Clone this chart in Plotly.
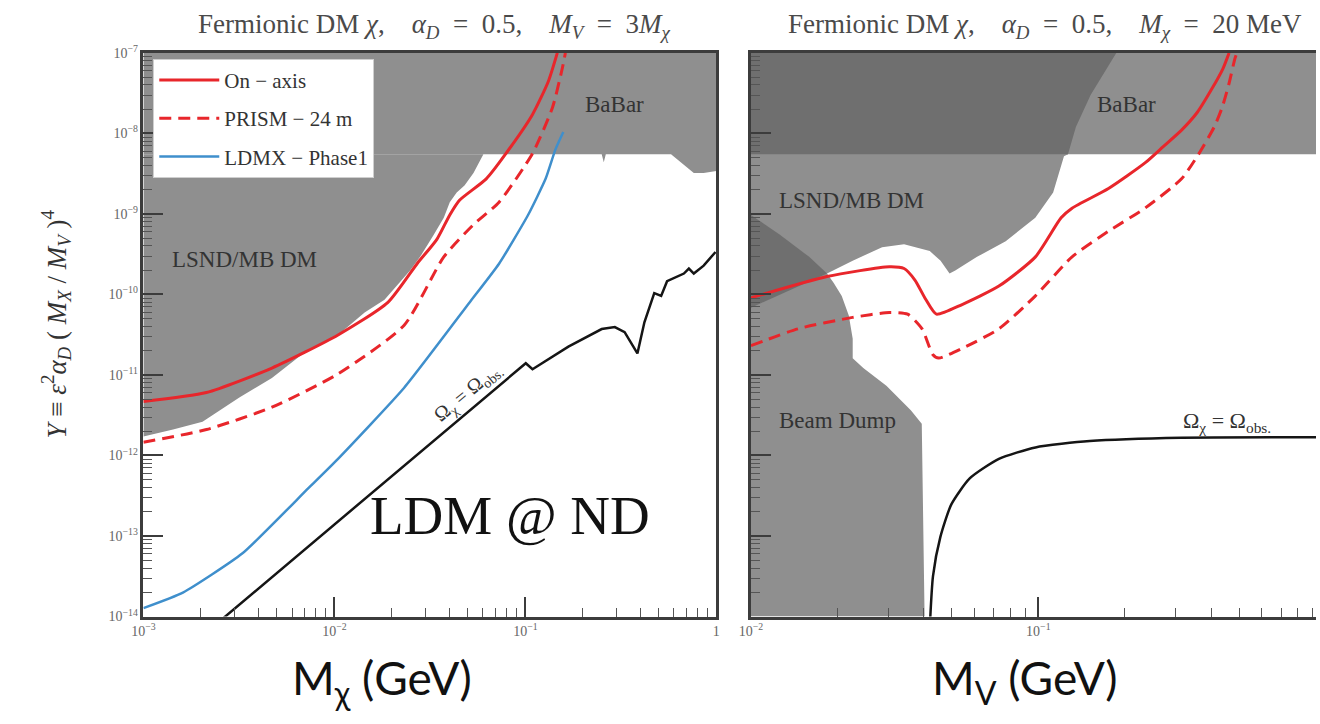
import plotly.graph_objects as go

# ---------------- Left panel: M_V = 3 M_chi (x = M_chi in GeV) ----------------
onaxis_m = [0.001, 0.00214, 0.00471, 0.01045, 0.019, 0.0271, 0.0344, 0.0402, 0.0452,
            0.0624, 0.0792, 0.109, 0.132, 0.147]
onaxis_y = [4.7e-12, 6.05e-12, 1.22e-11, 3.14e-11, 7.9e-11, 2.41e-10, 4.84e-10, 9.73e-10,
            1.48e-9, 2.73e-9, 5.65e-9, 1.72e-8, 4.45e-8, 1.0e-7]

prism_m = [0.001, 0.00214, 0.00471, 0.01045, 0.0232, 0.0374, 0.0535, 0.0728, 0.109,
           0.1387, 0.156, 0.162]
prism_y = [1.46e-12, 2.1e-12, 3.98e-12, 1.03e-11, 4.15e-11, 2.93e-10, 7.36e-10, 1.4e-9,
           5.65e-9, 2.1e-8, 6.4e-8, 1.0e-7]

ldmx_m = [0.001, 0.00161, 0.00329, 0.00731, 0.01045, 0.0232, 0.0509, 0.0728, 0.1033,
          0.1276, 0.1436, 0.158]
ldmx_y = [1.27e-14, 1.98e-14, 6.05e-14, 3.93e-13, 9.1e-13, 6.95e-12, 7.9e-11, 2.41e-10,
          9.7e-10, 2.73e-9, 6.3e-9, 1.04e-8]

relic_m = [0.0026, 0.1005, 0.109, 0.168, 0.251, 0.294, 0.331, 0.386, 0.42, 0.473, 0.514,
           0.552, 0.676, 0.718, 0.762, 0.858, 0.99]
relic_y = [9.4e-15, 1.4e-11, 1.18e-11, 2.25e-11, 3.72e-11, 3.93e-11, 3.41e-11, 1.85e-11,
           4.52e-11, 1.04e-10, 9.6e-11, 1.46e-10, 1.82e-10, 2.1e-10, 1.82e-10, 2.28e-10,
           3.37e-10]

babar_l_m = [0.001, 1.0, 1.0, 0.858, 0.762, 0.579, 0.2637, 0.2574, 0.251, 0.001]
babar_l_y = [1e-7, 1e-7, 3.41e-9, 3.23e-9, 3.23e-9, 5.5e-9, 5.5e-9, 4.39e-9, 5.5e-9, 5.5e-9]

lsnd_l_m = [0.0603, 0.0535, 0.048, 0.0437, 0.0402, 0.0374, 0.0332, 0.0281, 0.0249, 0.0183,
            0.0144, 0.01045, 0.00705, 0.00471, 0.00318, 0.00204, 0.00143, 0.001, 0.001]
lsnd_l_y = [5.5e-9, 3.23e-9, 2.25e-9, 1.85e-9, 1.4e-9, 8.95e-10, 5.56e-10, 2.93e-10,
            1.98e-10, 8.57e-11, 5.97e-11, 3.14e-11, 1.95e-11, 9.2e-12, 5.26e-12, 2.62e-12,
            2.1e-12, 1.72e-12, 5.5e-9]

# ---------------- Right panel: M_chi = 20 MeV (x = M_V in GeV) ----------------
onaxis_mv = [0.01, 0.0184, 0.0303, 0.0341, 0.0372, 0.0406, 0.0442, 0.0543, 0.0729, 0.0977,
             0.120, 0.131, 0.1754, 0.235, 0.272, 0.315, 0.357, 0.403, 0.439, 0.461]
onaxis_yv = [9.08e-11, 1.67e-10, 2.21e-10, 2.1e-10, 1.51e-10, 8.65e-11, 5.69e-11, 7.5e-11,
             1.27e-10, 2.93e-10, 8.95e-10, 1.18e-9, 2.07e-9, 4.3e-9, 6.86e-9, 1.1e-8,
             1.82e-8, 3.66e-8, 6.4e-8, 1.0e-7]

prism_mv = [0.01, 0.01456, 0.0226, 0.0303, 0.0351, 0.0394, 0.0429, 0.045, 0.0543, 0.0729,
            0.0977, 0.131, 0.1754, 0.235, 0.315, 0.363, 0.409, 0.436, 0.461, 0.483, 0.491]
prism_yv = [2.31e-11, 3.74e-11, 5.19e-11, 5.97e-11, 5.69e-11, 3.74e-11, 1.8e-11, 1.62e-11,
            2.14e-11, 3.74e-11, 9.6e-11, 2.93e-10, 6.1e-10, 1.18e-9, 2.73e-9, 5.69e-9,
            1.2e-8, 2.1e-8, 4.2e-8, 8.5e-8, 1.0e-7]

relic_mv = [0.0417, 0.043, 0.0456, 0.0498, 0.0577, 0.0729, 0.0977, 0.151, 0.315, 0.925]
relic_yv = [5e-15, 3.18e-14, 9.7e-14, 2.47e-13, 5.19e-13, 9.07e-13, 1.26e-12, 1.51e-12,
            1.66e-12, 1.68e-12]

babar_r_m = [0.01, 1.0, 1.0, 0.01]
babar_r_y = [1e-7, 1e-7, 5.5e-9, 5.5e-9]

lsnd_r_m = [0.01, 0.1868, 0.152, 0.1405, 0.1351, 0.1268, 0.1228, 0.1126, 0.0976, 0.077,
            0.0612, 0.0514, 0.0491, 0.0457, 0.0419, 0.0341, 0.0286, 0.0226, 0.0184, 0.01]
lsnd_r_y = [1e-7, 1e-7, 3.01e-8, 1.58e-8, 1.2e-8, 5.5e-9, 5.19e-9, 1.85e-9, 8.95e-10,
            4.58e-10, 2.93e-10, 1.98e-10, 1.82e-10, 2.62e-10, 3.46e-10, 4.2e-10, 3.87e-10,
            2.62e-10, 1.82e-10, 6.86e-11]

beamdump_m = [0.01, 0.01258, 0.01594, 0.0174, 0.0184, 0.01944, 0.0207, 0.0219, 0.0226,
              0.0226, 0.0246, 0.0296, 0.036, 0.0393, 0.0402, 0.01]
beamdump_y = [9.73e-10, 5.56e-10, 2.93e-10, 2.21e-10, 1.82e-10, 1.38e-10, 9.6e-11, 5.48e-11,
              2.81e-11, 1.61e-11, 1.22e-11, 7.36e-12, 3.66e-12, 2.48e-12, 1e-14, 1e-14]

# overlapping exclusions are shaded darker
lsnd_babar_m = [0.01, 0.1868, 0.152, 0.1405, 0.1351, 0.1268, 0.01]
lsnd_babar_y = [1e-7, 1e-7, 3.01e-8, 1.58e-8, 1.2e-8, 5.5e-9, 5.5e-9]
lsnd_bd_m = [0.01, 0.01258, 0.01594, 0.0174, 0.0184, 0.01]
lsnd_bd_y = [9.73e-10, 5.56e-10, 2.93e-10, 2.21e-10, 1.82e-10, 6.86e-11]

# axis tick labels
y_tickvals = [1e-14, 1e-13, 1e-12, 1e-11, 1e-10, 1e-9, 1e-8, 1e-7]
y_ticktext = ["10<sup>−14</sup>", "10<sup>−13</sup>", "10<sup>−12</sup>", "10<sup>−11</sup>",
              "10<sup>−10</sup>", "10<sup>−9</sup>", "10<sup>−8</sup>", "10<sup>−7</sup>"]
xl_tickvals = [0.001, 0.01, 0.1, 1.0]
xl_ticktext = ["10<sup>−3</sup>", "10<sup>−2</sup>", "10<sup>−1</sup>", "1"]
xr_tickvals = [0.01, 0.1]
xr_ticktext = ["10<sup>−2</sup>", "10<sup>−1</sup>"]

W, H = 1320, 724
LIGHT = "#8f8f8f"
DARK = "#6f6f6f"
RED = "#e8262b"
BLUE = "#3f8fcc"
SERIF = "Liberation Serif"


def fx(p):
    return p / W


def fy(p):
    return 1 - p / H


fig = go.Figure()


def region(x, y, color, xa, ya):
    fig.add_trace(go.Scatter(x=x, y=y, mode="lines", fill="toself", fillcolor=color,
                             line=dict(width=0), hoverinfo="skip", showlegend=False,
                             xaxis=xa, yaxis=ya))


# shaded exclusion regions
region(babar_l_m, babar_l_y, LIGHT, "x", "y")
region(lsnd_l_m, lsnd_l_y, LIGHT, "x", "y")
region(babar_r_m, babar_r_y, LIGHT, "x2", "y2")
region(lsnd_r_m, lsnd_r_y, LIGHT, "x2", "y2")
region(beamdump_m, beamdump_y, LIGHT, "x2", "y2")
region(lsnd_babar_m, lsnd_babar_y, DARK, "x2", "y2")
region(lsnd_bd_m, lsnd_bd_y, DARK, "x2", "y2")

# sensitivity curves, left
fig.add_trace(go.Scatter(x=onaxis_m, y=onaxis_y, mode="lines", name="On − axis",
                         legendgroup="a", line=dict(color=RED, width=3, shape="spline",
                                                     smoothing=0.6)))
fig.add_trace(go.Scatter(x=prism_m, y=prism_y, mode="lines", name="PRISM − 24 m",
                         legendgroup="b", line=dict(color=RED, width=3, dash="12px,7px",
                                                     shape="spline", smoothing=0.6)))
fig.add_trace(go.Scatter(x=ldmx_m, y=ldmx_y, mode="lines", name="LDMX − Phase1",
                         legendgroup="c", line=dict(color=BLUE, width=2.5, shape="spline",
                                                     smoothing=0.5)))
fig.add_trace(go.Scatter(x=relic_m, y=relic_y, mode="lines", showlegend=False,
                         line=dict(color="#151515", width=2.5)))

# sensitivity curves, right
fig.add_trace(go.Scatter(x=onaxis_mv, y=onaxis_yv, mode="lines", showlegend=False,
                         line=dict(color=RED, width=3, shape="spline", smoothing=0.6),
                         xaxis="x2", yaxis="y2"))
fig.add_trace(go.Scatter(x=prism_mv, y=prism_yv, mode="lines", showlegend=False,
                         line=dict(color=RED, width=3, dash="12px,7px", shape="spline",
                                   smoothing=0.6),
                         xaxis="x2", yaxis="y2"))
fig.add_trace(go.Scatter(x=relic_mv, y=relic_yv, mode="lines", showlegend=False,
                         line=dict(color="#151515", width=2.5, shape="spline", smoothing=0.6),
                         xaxis="x2", yaxis="y2"))

minor_vals = [k * 10.0 ** n for n in range(-15, 1) for k in range(2, 10)]

axis_common = dict(type="log", showgrid=False, zeroline=False, showline=True,
                   linecolor="#3c3c3c", linewidth=2.5, ticks="inside", ticklen=20,
                   tickwidth=1.5, tickcolor="#3c3c3c", tickmode="array",
                   tickfont=dict(family=SERIF, size=14, color="#666666"),
                   minor=dict(ticks="inside", ticklen=9, tickwidth=1, tickcolor="#555555",
                              tickmode="array", tickvals=minor_vals, showgrid=False))

ydom = [fy(622), fy(44)]
fig.update_layout(
    width=W, height=H, margin=dict(l=0, r=0, t=0, b=0),
    paper_bgcolor="white", plot_bgcolor="white",
    xaxis=dict(domain=[fx(133), fx(713)], range=[-3, 0], anchor="y", mirror=True,
               tickvals=xl_tickvals, ticktext=xl_ticktext, **axis_common),
    yaxis=dict(domain=ydom, range=[-14, -7], anchor="x", mirror=True,
               tickvals=y_tickvals, ticktext=y_ticktext, **axis_common),
    xaxis2=dict(domain=[fx(748), 1.0], range=[-2, -0.0339], anchor="y2", mirror=True,
                tickvals=xr_tickvals, ticktext=xr_ticktext, **axis_common),
    yaxis2=dict(domain=ydom, range=[-14, -7], anchor="x2", mirror=False,
                tickvals=y_tickvals, showticklabels=False, **axis_common),
    showlegend=True,
    legend=dict(x=fx(143), y=fy(50), xanchor="left", yanchor="top", bgcolor="white",
                bordercolor="#cfcfcf", borderwidth=1, tracegroupgap=8, itemwidth=60,
                font=dict(family=SERIF, size=21, color="#333333")),
)

ann = []


def label(text, x, y, size=23, color="#333333", xref="paper", yref="paper",
          family=SERIF, angle=0, xanchor="center"):
    ann.append(dict(text=text, x=x, y=y, xref=xref, yref=yref, showarrow=False,
                    xanchor=xanchor, yanchor="middle", textangle=angle,
                    font=dict(family=family, size=size, color=color)))


SP = "&nbsp;&nbsp;&nbsp;&nbsp;"
EQ = "&nbsp;&nbsp;=&nbsp;&nbsp;"
# panel titles
label("Fermionic DM <i>χ</i>," + SP + "<i>α<sub>D</sub></i>" + EQ + "0.5," + SP +
      "<i>M<sub>V</sub></i>" + EQ + "3<i>M<sub>χ</sub></i>",
      fx(428), fy(16), size=27, color="#4a4a4a")
label("Fermionic DM <i>χ</i>," + SP + "<i>α<sub>D</sub></i>" + EQ + "0.5," + SP +
      "<i>M<sub>χ</sub></i>" + EQ + "20 MeV",
      fx(1046), fy(16), size=27, color="#4a4a4a")

# y-axis title
label("<i>Y</i> ≡ <i>ε</i><sup>2</sup><i>α<sub>D</sub></i> ( <i>M<sub>X</sub></i> / <i>M<sub>V</sub></i> )<sup>4</sup>",
      fx(45), fy(322), size=27, color="#333333", angle=-90)

# region labels (data coordinates, log10 values)
label("BaBar", -0.532, -7.64, xref="x", yref="y")
label("LSND/MB DM", -2.472, -9.57, xref="x", yref="y")
label("BaBar", -0.694, -7.64, xref="x2", yref="y2")
label("LSND/MB DM", -1.649, -8.83, xref="x2", yref="y2")
label("Beam Dump", -1.698, -11.57, xref="x2", yref="y2")
label("Ω<sub>χ</sub> = Ω<sub>obs.</sub>", -0.344, -11.58, size=22, xref="x2", yref="y2")
label("Ω<sub>χ</sub> = Ω<sub>obs.</sub>", -1.30, -11.22, size=20, xref="x", yref="y",
      angle=-40)

# big overlay text
label("LDM @ ND", -1.08, -12.75, size=55, color="#111111", xref="x", yref="y")

# large axis captions
label("M<sub>χ</sub> (GeV)", fx(375), fy(688), size=46, color="#111111", family="Lato")
label("M<sub>V</sub> (GeV)", fx(1025), fy(688), size=46, color="#111111", family="Lato")

fig.update_layout(annotations=ann)
fig.write_html("out.html")
